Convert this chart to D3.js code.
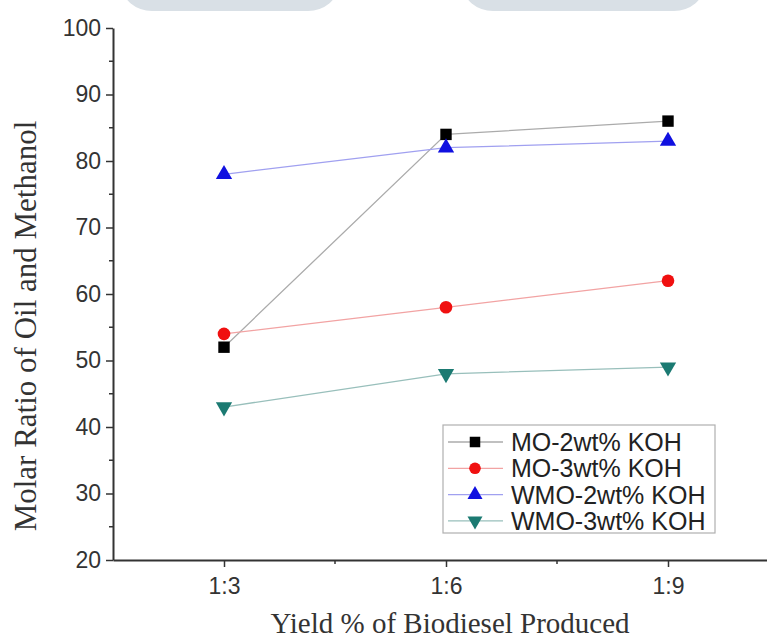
<!DOCTYPE html>
<html>
<head>
<meta charset="utf-8">
<script src="https://cdn.jsdelivr.net/npm/d3@7"></script>
<style>
  body { margin: 0; background: #fff; }
  svg { display: block; }
</style>
</head>
<body>
<div id="chart"></div>
<script>
// categories and series
const categories = ['1:3', '1:6', '1:9'];
const seriesNames = ['MO-2wt% KOH', 'MO-3wt% KOH', 'WMO-2wt% KOH', 'WMO-3wt% KOH'];
const mo2 = [52, 84, 86];
const mo3 = [54, 58, 62];
const wmo2 = [78, 82, 83];
const wmo3 = [43, 48, 49];
const yTicks = [20, 30, 40, 50, 60, 70, 80, 90, 100];

const styles = [
  { line: '#ababab', fill: '#000000', symbol: d3.symbolSquare, size: 130, rotate: 0 },
  { line: '#f2a3a3', fill: '#f01010', symbol: d3.symbolCircle, size: 125, rotate: 0 },
  { line: '#a0a0f0', fill: '#1010e0', symbol: d3.symbolTriangle, size: 115, rotate: 0 },
  { line: '#98bfbb', fill: '#1b7a72', symbol: d3.symbolTriangle, size: 115, rotate: 180 }
];

const series = [mo2, mo3, wmo2, wmo3].map((vals, i) => ({
  name: seriesNames[i],
  values: vals,
  style: styles[i]
}));

const W = 767, H = 639;
const svg = d3.select('#chart').append('svg')
  .attr('width', W)
  .attr('height', H);

// faint watermark blobs at the very top
const blobs = [[122, 338], [463, 704]];
svg.selectAll('.blob')
  .data(blobs)
  .enter().append('rect')
  .attr('class', 'blob')
  .attr('x', d => d[0])
  .attr('width', d => d[1] - d[0])
  .attr('y', -40)
  .attr('height', 51)
  .attr('rx', 30)
  .attr('fill', '#d9e0e6');

const x = d3.scaleLinear().domain([0.5, 3.5]).range([113, 779]);
const y = d3.scaleLinear().domain([20, 100]).range([560, 28]);

const axisColor = '#333';
const sans = '"Liberation Sans", Arial, sans-serif';
const serif = '"Liberation Serif", "Times New Roman", serif';

// y axis
const yAxis = svg.append('g')
  .attr('transform', `translate(${x(0.5)},0)`)
  .call(d3.axisLeft(y).tickValues(yTicks).tickSize(7).tickPadding(5).tickSizeOuter(0));
yAxis.select('.domain').attr('stroke', axisColor).attr('stroke-width', 2);
yAxis.selectAll('.tick line').attr('stroke', axisColor).attr('stroke-width', 1.5);
yAxis.selectAll('.tick text')
  .attr('fill', '#333')
  .style('font-family', sans)
  .style('font-size', '23px');

// y minor ticks
svg.append('g')
  .selectAll('line')
  .data(d3.range(25, 100, 10))
  .enter().append('line')
  .attr('x1', x(0.5) - 4).attr('x2', x(0.5))
  .attr('y1', d => y(d)).attr('y2', d => y(d))
  .attr('stroke', axisColor).attr('stroke-width', 1.5);

// x axis
const xAxis = svg.append('g')
  .attr('transform', `translate(0,${y(20)})`)
  .call(d3.axisBottom(x).tickValues([1, 2, 3]).tickFormat((d, i) => categories[i])
    .tickSize(7).tickPadding(11).tickSizeOuter(0));
xAxis.select('.domain').attr('stroke', axisColor).attr('stroke-width', 2);
xAxis.selectAll('.tick line').attr('stroke', axisColor).attr('stroke-width', 1.5);
xAxis.selectAll('.tick text')
  .attr('fill', '#333')
  .style('font-family', sans)
  .style('font-size', '23px');

// x minor ticks
svg.append('g')
  .selectAll('line')
  .data([1.5, 2.5])
  .enter().append('line')
  .attr('x1', d => x(d)).attr('x2', d => x(d))
  .attr('y1', y(20)).attr('y2', y(20) + 4)
  .attr('stroke', axisColor).attr('stroke-width', 1.5);

// axis titles
svg.append('text')
  .attr('x', 450)
  .attr('y', 633)
  .attr('text-anchor', 'middle')
  .attr('fill', '#333')
  .style('font-family', serif)
  .style('font-size', '29px')
  .text('Yield % of Biodiesel Produced');

svg.append('text')
  .attr('transform', 'translate(36,326) rotate(-90)')
  .attr('text-anchor', 'middle')
  .attr('fill', '#333')
  .style('font-family', serif)
  .style('font-size', '31px')
  .text('Molar Ratio of Oil and Methanol');

// lines
const line = d3.line()
  .x((d, i) => x(i + 1))
  .y(d => y(d));

const plot = svg.append('g');

plot.selectAll('.series-line')
  .data(series)
  .enter().append('path')
  .attr('class', 'series-line')
  .attr('d', d => line(d.values))
  .attr('fill', 'none')
  .attr('stroke', d => d.style.line)
  .attr('stroke-width', 1.3);

// markers
series.forEach(s => {
  const sym = d3.symbol().type(s.style.symbol).size(s.style.size);
  plot.append('g').selectAll('path')
    .data(s.values)
    .enter().append('path')
    .attr('d', sym)
    .attr('transform', (d, i) => `translate(${x(i + 1)},${y(d)}) rotate(${s.style.rotate})`)
    .attr('fill', s.style.fill);
});

// legend
const lx = 443, ly = 425, lw = 272, lh = 108, rowH = 26.3;
const legend = svg.append('g');
legend.append('rect')
  .attr('x', lx).attr('y', ly)
  .attr('width', lw).attr('height', lh)
  .attr('fill', '#fff')
  .attr('stroke', '#b0b0b0')
  .attr('stroke-width', 1.2);

const rows = legend.selectAll('.row')
  .data(series)
  .enter().append('g')
  .attr('class', 'row')
  .attr('transform', (d, i) => `translate(${lx},${ly + 17 + i * rowH})`);

rows.append('line')
  .attr('x1', 5).attr('x2', 60)
  .attr('stroke', d => d.style.line)
  .attr('stroke-width', 1.3);

rows.append('path')
  .attr('d', d => d3.symbol().type(d.style.symbol).size(d.style.size * 0.85)())
  .attr('transform', d => `translate(32,0) rotate(${d.style.rotate})`)
  .attr('fill', d => d.style.fill);

rows.append('text')
  .attr('x', 68)
  .attr('dy', '0.36em')
  .attr('fill', '#222')
  .style('font-family', sans)
  .style('font-size', '25px')
  .text(d => d.name);
</script>
</body>
</html>
